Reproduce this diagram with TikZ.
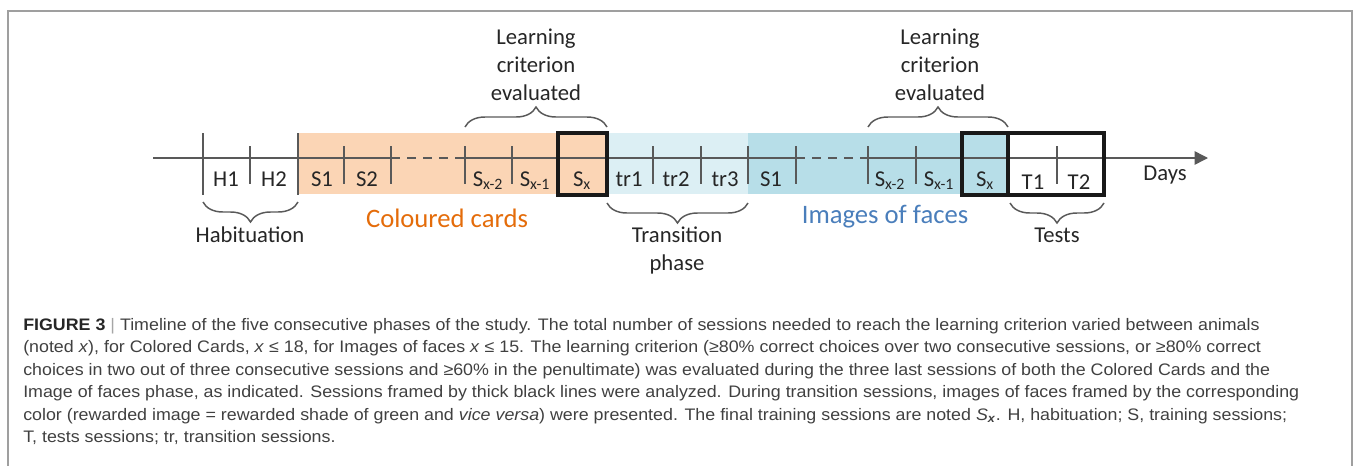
\documentclass[tikz,border=0pt]{standalone}
\usepackage{fontspec}
\setmainfont{Carlito}
\newfontfamily\capfont[FakeStretch=1.07]{Liberation Sans}
\usepackage{xcolor}
\usetikzlibrary{arrows.meta,positioning,decorations.pathreplacing}

\definecolor{cardfill}{HTML}{FBD5B5}
\definecolor{cardtext}{HTML}{E46C0A}
\definecolor{transfill}{HTML}{DCEFF4}
\definecolor{facefill}{HTML}{B7DEE8}
\definecolor{facetext}{HTML}{4A7EBB}
\definecolor{axisgray}{HTML}{595959}
\definecolor{capgray}{HTML}{404040}

\begin{document}
\begin{tikzpicture}[
    % GLOBAL CFG
    x=0.75pt, y=-0.75pt,
    >={Triangle[length=10pt,width=10pt]},
    % Styles
    sess/.style={% For the session names on the axis
        anchor=base,
        inner sep=0pt,
        font=\fontsize{17}{21}\selectfont,
        text=black!85,
        },
    phase/.style={% For the phase names (base = last line)
        anchor=base,
        inner sep=0pt,
        align=center,
        font=\fontsize{17}{21}\selectfont,
        text=black!85,
        },
    bigphase/.style={% For the coloured phase names
        anchor=base,
        inner sep=0pt,
        font=\fontsize{20}{24}\selectfont,
        },
    sessiontick/.style={% Ticks between sessions
        axisgray,
        line width=1.1pt,
        },
    analysed/.style={% Sessions framed by thick lines
        draw=black!90,
        line width=2.6pt,
        },
    upbrace/.style={% Braces above the axis
        axisgray,
        line width=1.1pt,
        decorate,
        decoration={brace, amplitude=15pt},
        },
    downbrace/.style={% Braces below the axis
        axisgray,
        line width=1.1pt,
        decorate,
        decoration={brace, mirror, amplitude=15pt},
        },
    capline/.style={% One line of the caption
        anchor=base west,
        inner sep=0pt,
        font=\capfont\fontsize{12.5}{17}\selectfont,
        text=capgray,
        },
    ]
\useasboundingbox (0,0) rectangle (1357,465);

% Outer frame of the figure
\draw[gray!75, line width=1.2pt] (8,466) |- (1352,11) -- (1352,466);

% Background of the phases
\fill[cardfill] (298,133) rectangle (607,194);
\fill[transfill] (607,133) rectangle (748,194);
\fill[facefill] (748,133) rectangle (1008,194);

% Time axis
\coordinate (start) at (153,158);
\coordinate (end) at (1208,158);
\draw[sessiontick] (start) -- (391,158);
\draw[sessiontick, dash pattern=on 7pt off 5pt] (391,158) -- (465,158);
\draw[sessiontick] (465,158) -- (796,158);
\draw[sessiontick, dash pattern=on 7pt off 5pt] (796,158) -- (868,158);
\draw[->, sessiontick] (868,158) -- (end);

% Ticks
\draw[sessiontick] (203,133) -- (203,195) (298,133) -- (298,195);
\draw[sessiontick] (250,146) -- (250,184) (344,146) -- (344,184)
    (391,146) -- (391,184) (465,146) -- (465,184) (512,146) -- (512,184);
\draw[sessiontick] (653,146) -- (653,184) (701,146) -- (701,184)
    (748,146) -- (748,184) (796,146) -- (796,184);
\draw[sessiontick] (868,146) -- (868,184) (916,146) -- (916,184)
    (1057,146) -- (1057,184);

% Analysed sessions
\draw[analysed] (558,133) rectangle (607,195);
\draw[analysed] (962,133) rectangle (1008,195);
\draw[analysed] (1008,133) rectangle (1104,195);

% Session names
\node[sess] (h1) at (226,186) {H1};
\node[sess] (h2) at (274,186) {H2};
\node[sess] (s1a) at (322,186) {S1};
\node[sess] (s2a) at (367,186) {S2};
\node[sess] (sx2a) at (488,186) {S\textsubscript{x-2}};
\node[sess] (sx1a) at (535,186) {S\textsubscript{x-1}};
\node[sess] (sxa) at (582,186) {S\textsubscript{x}};
\node[sess] (tr1) at (629,186) {tr1};
\node[sess] (tr2) at (676,186) {tr2};
\node[sess] (tr3) at (725,186) {tr3};
\node[sess] (s1b) at (771,186) {S1};
\node[sess] (sx2b) at (890,186) {S\textsubscript{x-2}};
\node[sess] (sx1b) at (939,186) {S\textsubscript{x-1}};
\node[sess] (sxb) at (985,186) {S\textsubscript{x}};
\node[sess] (t1) at (1033,189) {T1};
\node[sess] (t2) at (1079,189) {T2};
\node[sess] (days) at (1165,180) {Days};

% Braces
\draw[upbrace] (465,127) -- (607,127);
\draw[upbrace] (868,127) -- (1008,127);
\draw[downbrace] (203,202) -- (298,202);
\draw[downbrace] (607,203) -- (748,203);
\draw[downbrace] (1010,203) -- (1104,203);

% Phase names
\node[phase] (crit1) at (536,100) {Learning\\criterion\\evaluated};
\node[phase] (crit2) at (940,100) {Learning\\criterion\\evaluated};
\node[phase] (hab) at (250,242) {Habituation};
\node[phase] (trans) at (677,270) {Transition\\phase};
\node[phase] (tests) at (1057,242) {Tests};
\node[bigphase, text=cardtext] (cards) at (447,227) {Coloured cards};
\node[bigphase, text=facetext] (faces) at (885,223) {Images of faces};

% Caption
\node[capline] (cap1) at (23,330) {{\bfseries\color{black!85}FIGURE 3} {\color{gray!70}|} Timeline of the five consecutive phases of the study. The total number of sessions needed to reach the learning criterion varied between animals};
\node[capline] (cap2) at (23,352.5) {(noted \textit{x}), for Colored Cards, \textit{x} ≤ 18, for Images of faces \textit{x} ≤ 15. The learning criterion (≥80\% correct choices over two consecutive sessions, or ≥80\% correct};
\node[capline] (cap3) at (23,375) {choices in two out of three consecutive sessions and ≥60\% in the penultimate) was evaluated during the three last sessions of both the Colored Cards and the};
\node[capline] (cap4) at (23,397.5) {Image of faces phase, as indicated. Sessions framed by thick black lines were analyzed. During transition sessions, images of faces framed by the corresponding};
\node[capline] (cap5) at (23,420) {color (rewarded image = rewarded shade of green and \textit{vice versa}) were presented. The final training sessions are noted \textit{S}\textsubscript{\textbf{\textit{x}}}. H, habituation; S, training sessions;};
\node[capline] (cap6) at (23,442.5) {T, tests sessions; tr, transition sessions.};

\end{tikzpicture}
\end{document}
